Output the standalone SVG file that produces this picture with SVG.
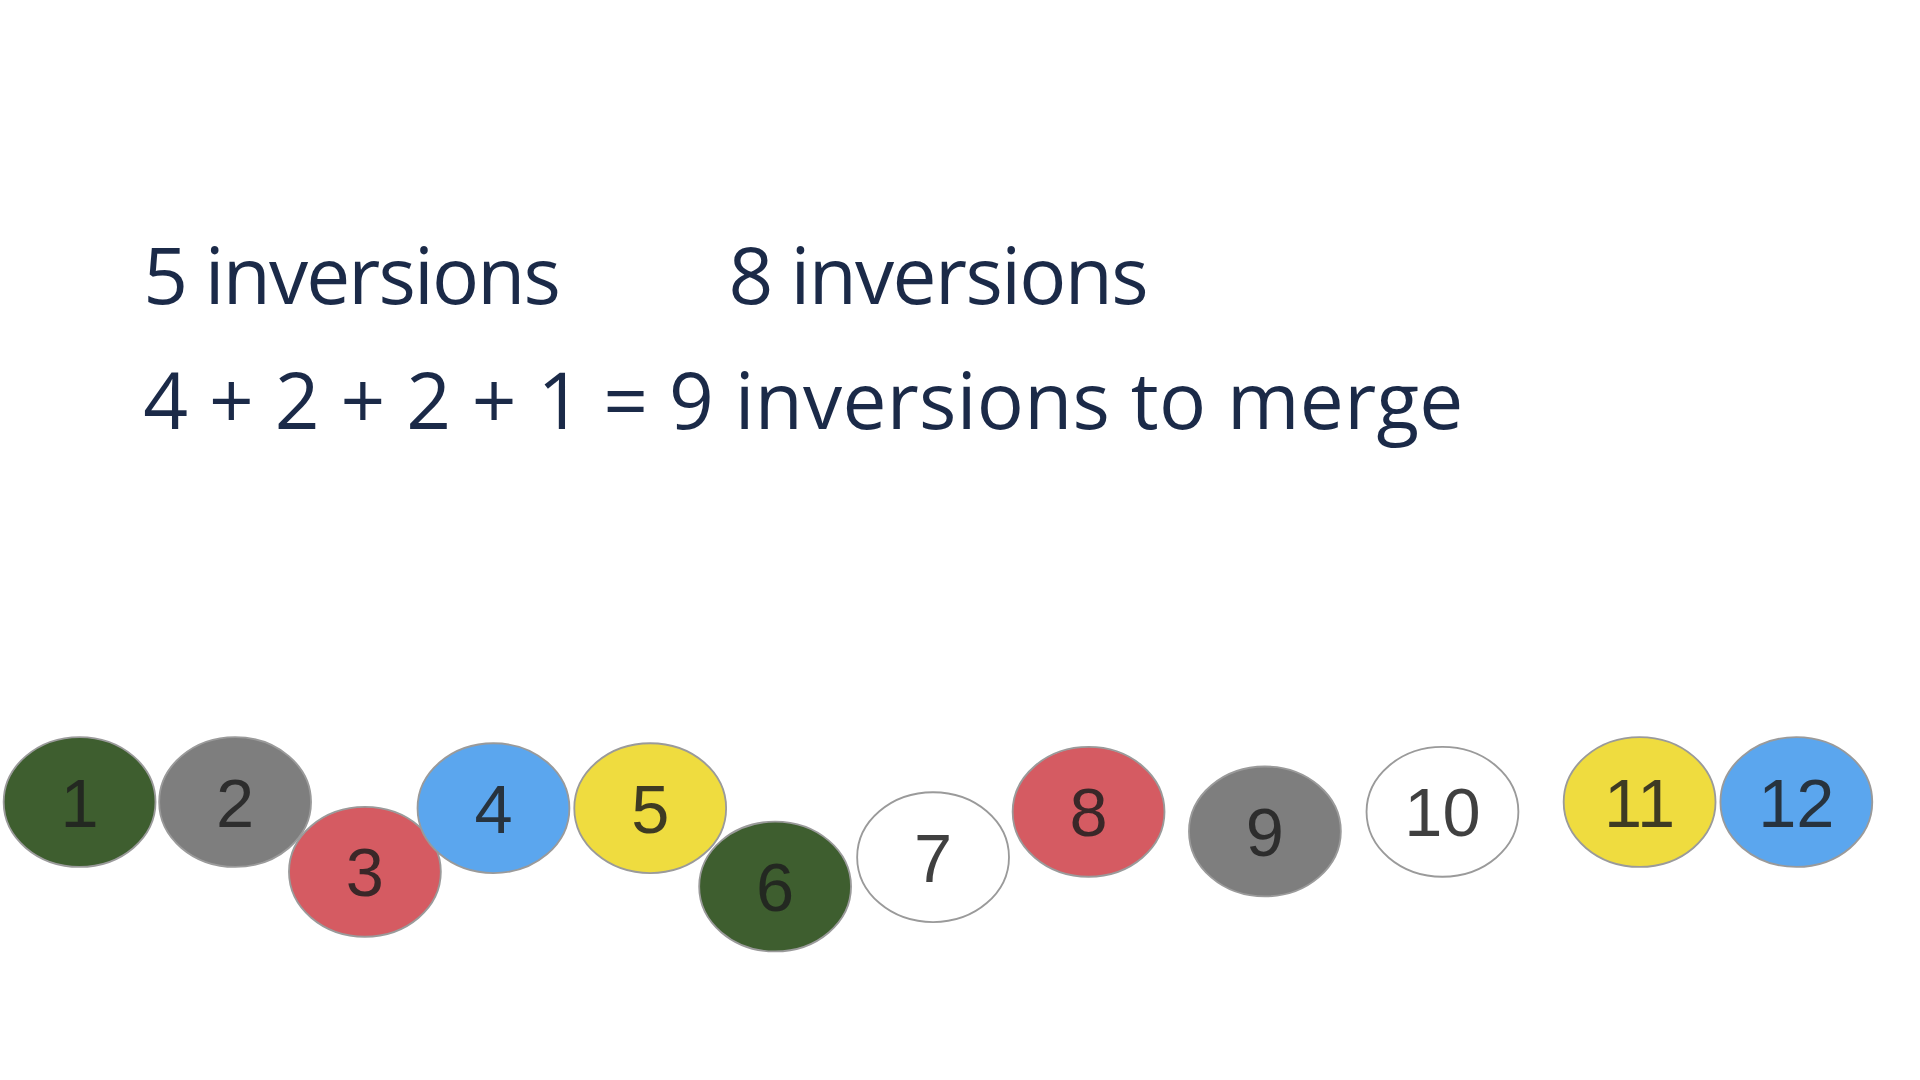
<svg xmlns="http://www.w3.org/2000/svg" width="1920" height="1080" viewBox="0 0 1920 1080">
<style>
.t{font-family:"Open Sans","DejaVu Sans",sans-serif;font-size:64px;fill:#1b2a48}
.n{font-family:"Liberation Sans",Arial,sans-serif;font-size:56px;fill:#1e1e1e;fill-opacity:0.85;text-anchor:middle}
.c{stroke:#9a9a9a;stroke-width:1.5}
</style>
<rect width="1920" height="1080" fill="#fff"/>
<g transform="scale(1.2245)">
<g id="labels">
<text class="t" x="117" y="248" textLength="341">5 inversions</text>
<text class="t" x="595" y="248" textLength="343">8 inversions</text>
<text class="t" x="117" y="350" textLength="1078">4 + 2 + 2 + 1 = 9 inversions to merge</text>
</g>
<g id="n1"><ellipse class="c" cx="65" cy="655" rx="62" ry="53" fill="#3e5e2f"/><text class="n" x="65" y="675">1</text></g>
<g id="n2"><ellipse class="c" cx="192" cy="655" rx="62" ry="53" fill="#7e7e7e"/><text class="n" x="192" y="675">2</text></g>
<g id="n3"><ellipse class="c" cx="298" cy="712" rx="62" ry="53" fill="#d55b62"/><text class="n" x="298" y="732">3</text></g>
<g id="n4"><ellipse class="c" cx="403" cy="660" rx="62" ry="53" fill="#5ba6ee"/><text class="n" x="403" y="680">4</text></g>
<g id="n5"><ellipse class="c" cx="531" cy="660" rx="62" ry="53" fill="#efdc3f"/><text class="n" x="531" y="680">5</text></g>
<g id="n6"><ellipse class="c" cx="633" cy="724" rx="62" ry="53" fill="#3e5e2f"/><text class="n" x="633" y="744">6</text></g>
<g id="n7"><ellipse class="c" cx="762" cy="700" rx="62" ry="53" fill="#ffffff"/><text class="n" x="762" y="720">7</text></g>
<g id="n8"><ellipse class="c" cx="889" cy="663" rx="62" ry="53" fill="#d55b62"/><text class="n" x="889" y="683">8</text></g>
<g id="n9"><ellipse class="c" cx="1033" cy="679" rx="62" ry="53" fill="#7e7e7e"/><text class="n" x="1033" y="699">9</text></g>
<g id="n10"><ellipse class="c" cx="1178" cy="663" rx="62" ry="53" fill="#ffffff"/><text class="n" x="1178" y="683">10</text></g>
<g id="n11"><ellipse class="c" cx="1339" cy="655" rx="62" ry="53" fill="#efdc3f"/><text class="n" x="1339" y="675">11</text></g>
<g id="n12"><ellipse class="c" cx="1467" cy="655" rx="62" ry="53" fill="#5ba6ee"/><text class="n" x="1467" y="675">12</text></g>
<g id="connectors"/>
</g>
</svg>
